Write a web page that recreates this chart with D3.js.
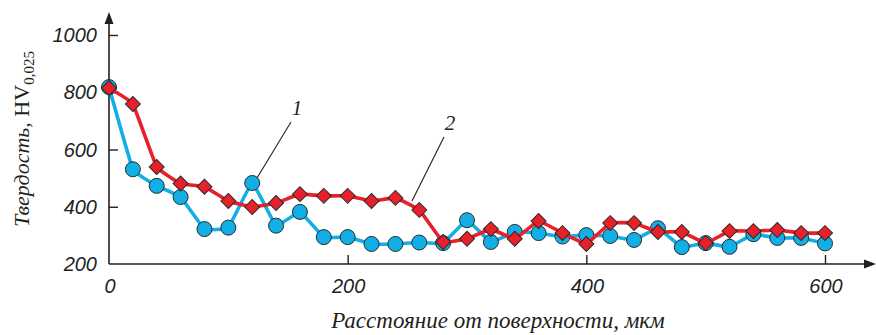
<!DOCTYPE html>
<html>
<head>
<meta charset="utf-8">
<script src="https://cdn.jsdelivr.net/npm/d3@7"></script>
<style>
  html, body { margin: 0; padding: 0; background: #fff; }
  svg { display: block; }
</style>
</head>
<body>
<svg id="chart" width="876" height="335"></svg>
<script>
// Distance from the surface, µm
const depth = [0, 20, 40, 60, 80, 100, 120, 140, 160, 180, 200, 220, 240, 260, 280, 300,
               320, 340, 360, 380, 400, 420, 440, 460, 480, 500, 520, 540, 560, 580, 600];
// Curve 1 (circles)
const hardness1 = [818, 531, 473, 434, 322, 327, 483, 334, 382, 294, 294, 270, 270, 275, 273, 353,
                   277, 312, 308, 296, 301, 298, 284, 325, 259, 273, 260, 304, 291, 291, 272];
// Curve 2 (diamonds)
const hardness2 = [815, 759, 539, 481, 470, 420, 399, 413, 444, 438, 438, 420, 431, 389, 277, 288,
                   322, 288, 350, 308, 270, 343, 343, 312, 312, 273, 315, 315, 319, 308, 308];
const xTicks = [0, 200, 400, 600];
const yTicks = [200, 400, 600, 800, 1000];

const svg = d3.select("#chart");
const x = d3.scaleLinear().domain([0, 600]).range([109, 825]);
const y = d3.scaleLinear().domain([200, 1000]).range([264, 35]);
const axisColor = "#231f20";

// Axes with arrowheads
svg.append("line").attr("x1", x(0)).attr("x2", 868).attr("y1", y(200)).attr("y2", y(200))
  .attr("stroke", axisColor).attr("stroke-width", 1.6);
svg.append("path").attr("d", `M876,${y(200)} L864,${y(200) - 4.5} L864,${y(200) + 4.5} Z`).attr("fill", axisColor);
svg.append("line").attr("x1", x(0)).attr("x2", x(0)).attr("y1", y(200)).attr("y2", 20)
  .attr("stroke", axisColor).attr("stroke-width", 1.6);
svg.append("path").attr("d", `M${x(0)},12 L${x(0) - 4.5},24 L${x(0) + 4.5},24 Z`).attr("fill", axisColor);

// Ticks pointing inward
const yAxis = d3.axisRight(y).tickValues(yTicks.slice(1)).tickSize(9).tickFormat("");
svg.append("g").attr("transform", `translate(${x(0)},0)`).call(yAxis)
  .call(g => g.select(".domain").remove())
  .call(g => g.selectAll("line").attr("stroke", axisColor).attr("stroke-width", 1.4));
const xAxis = d3.axisTop(x).tickValues(xTicks.slice(1)).tickSize(9).tickFormat("");
svg.append("g").attr("transform", `translate(0,${y(200)})`).call(xAxis)
  .call(g => g.select(".domain").remove())
  .call(g => g.selectAll("line").attr("stroke", axisColor).attr("stroke-width", 1.4));

// Tick labels
const tickFont = "'Liberation Sans', Arial, sans-serif";
svg.append("g").selectAll("text").data(yTicks).join("text")
  .attr("x", 97).attr("y", d => y(d)).attr("dy", "0.36em")
  .attr("text-anchor", "end").attr("font-family", tickFont).attr("font-style", "italic")
  .attr("font-size", 20).attr("fill", axisColor).text(d => d);
svg.append("g").selectAll("text").data(xTicks).join("text")
  .attr("x", d => x(d) + 1).attr("y", 293)
  .attr("text-anchor", "middle").attr("font-family", tickFont).attr("font-style", "italic")
  .attr("font-size", 20).attr("fill", axisColor).text(d => d);

// Axis titles
const serif = "'Liberation Serif', 'Times New Roman', serif";
svg.append("text").attr("x", 498).attr("y", 328).attr("text-anchor", "middle")
  .attr("font-family", serif).attr("font-style", "italic").attr("font-size", 23)
  .attr("fill", axisColor).text("Расстояние от поверхности, мкм");

const yTitle = svg.append("text").attr("transform", "translate(29,139) rotate(-90)")
  .attr("text-anchor", "middle").attr("font-family", serif).attr("font-size", 22).attr("fill", axisColor);
yTitle.append("tspan").attr("font-style", "italic").text("Твердость,");
yTitle.append("tspan").text(" HV");
yTitle.append("tspan").attr("font-size", 15).attr("dy", 5).text("0,025");

// Series
const pts1 = depth.map((d, i) => [d, hardness1[i]]);
const pts2 = depth.map((d, i) => [d, hardness2[i]]);
const line = d3.line().x(d => x(d[0])).y(d => y(d[1])).curve(d3.curveCardinal.tension(0.75));
const blue = "#12aee6", red = "#e8202a", edge = "#2b2b2b";

svg.append("path").datum(pts1).attr("d", line).attr("fill", "none")
  .attr("stroke", blue).attr("stroke-width", 3.6).attr("stroke-linejoin", "round");
svg.append("g").selectAll("circle").data(pts1).join("circle")
  .attr("cx", d => x(d[0])).attr("cy", d => y(d[1])).attr("r", 7.5)
  .attr("fill", blue).attr("stroke", edge).attr("stroke-width", 1);

svg.append("path").datum(pts2).attr("d", line).attr("fill", "none")
  .attr("stroke", red).attr("stroke-width", 3.6).attr("stroke-linejoin", "round");
const diamond = d3.symbol().type(d3.symbolSquare).size(112);
svg.append("g").selectAll("path").data(pts2).join("path")
  .attr("d", diamond)
  .attr("transform", d => `translate(${x(d[0])},${y(d[1])}) rotate(45)`)
  .attr("fill", red).attr("stroke", edge).attr("stroke-width", 1);

// Curve labels with leader lines
svg.append("line").attr("x1", 291).attr("y1", 122).attr("x2", 257).attr("y2", 178)
  .attr("stroke", axisColor).attr("stroke-width", 1.1);
svg.append("line").attr("x1", 444).attr("y1", 137).attr("x2", 412).attr("y2", 201)
  .attr("stroke", axisColor).attr("stroke-width", 1.1);
svg.append("text").attr("x", 297).attr("y", 115).attr("text-anchor", "middle")
  .attr("font-family", serif).attr("font-style", "italic").attr("font-size", 21)
  .attr("fill", axisColor).text("1");
svg.append("text").attr("x", 450).attr("y", 130).attr("text-anchor", "middle")
  .attr("font-family", serif).attr("font-style", "italic").attr("font-size", 21)
  .attr("fill", axisColor).text("2");
</script>
</body>
</html>
